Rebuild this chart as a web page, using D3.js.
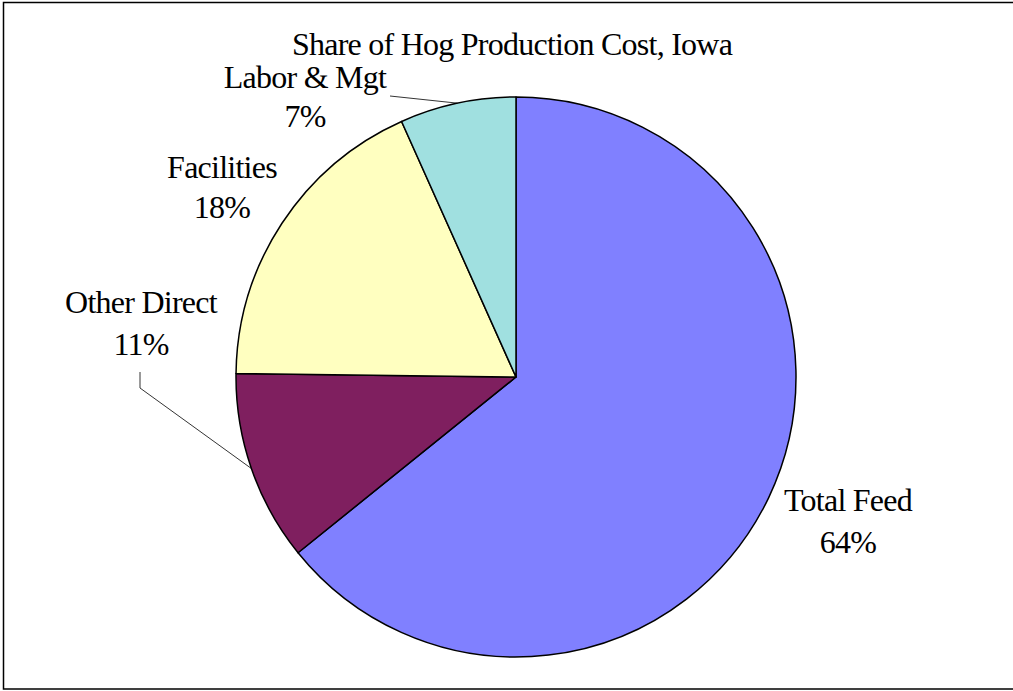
<!DOCTYPE html>
<html><head><meta charset="utf-8">
<script src="https://cdn.jsdelivr.net/npm/d3@7"></script>
<style>html,body{margin:0;padding:0;background:#fff;}svg{display:block;}</style>
</head><body>
<script>
const categories = ["Total Feed", "Other Direct", "Facilities", "Labor & Mgt"];
const shares = [64.2, 11.0, 18.1, 6.7];
const shareLabels = ["64%", "11%", "18%", "7%"];
const colors = ["#8080ff", "#7f1f5f", "#ffffc0", "#a0e0e0"];
const title = "Share of Hog Production Cost, Iowa";

const W = 1013, H = 691;
const cx = 516, cy = 377, R = 280;
// label layout (name baseline centre)
const labelPos = [
  {x: 848, y: 511, dy: 42},
  {x: 141, y: 313, dy: 42},
  {x: 222, y: 178, dy: 40},
  {x: 305, y: 88, dy: 39}
];

const svg = d3.select("body").append("svg").attr("width", W).attr("height", H);
svg.append("rect").attr("x", 3.5).attr("y", 2.5).attr("width", W + 10).attr("height", 686.5)
  .attr("fill", "#fff").attr("stroke", "#000").attr("stroke-width", 1.5);

const data = categories.map((c, i) => ({name: c, value: shares[i], label: shareLabels[i], color: colors[i]}));
const pie = d3.pie().value(d => d.value).sort(null);
const arcs = pie(data);
const arc = d3.arc().innerRadius(0).outerRadius(R);
const edgeArc = d3.arc().innerRadius(R).outerRadius(R);

const g = svg.append("g").attr("transform", `translate(${cx},${cy})`);
g.selectAll("path").data(arcs).join("path")
  .attr("d", arc).attr("fill", d => d.data.color)
  .attr("stroke", "#000").attr("stroke-width", 1.5).attr("stroke-linejoin", "round");

const font = "'Liberation Serif', 'Times New Roman', serif";
const fs = 32, ls = -0.75;
svg.append("text").attr("x", 512).attr("y", 55).attr("text-anchor", "middle")
  .attr("font-family", font).attr("font-size", fs).attr("letter-spacing", ls).text(title);

arcs.forEach((a, i) => {
  const p = labelPos[i];
  svg.append("text").attr("x", p.x).attr("y", p.y).attr("text-anchor", "middle")
    .attr("font-family", font).attr("font-size", fs).attr("letter-spacing", ls).text(a.data.name);
  svg.append("text").attr("x", p.x).attr("y", p.y + p.dy).attr("text-anchor", "middle")
    .attr("font-family", font).attr("font-size", fs).attr("letter-spacing", ls).text(a.data.label);
});

// leader lines
const mid = a => { const c = edgeArc.centroid(a); return [cx + c[0], cy + c[1]]; };
const lab = mid(arcs[3]);
svg.append("path").attr("d", d3.line()([[390, 96], lab]))
  .attr("fill", "none").attr("stroke", "#000").attr("stroke-width", 0.8);
const od = mid(arcs[1]);
svg.append("path").attr("d", d3.line()([[140, 372], [140, 388], od]))
  .attr("fill", "none").attr("stroke", "#000").attr("stroke-width", 0.8);
</script>
</body></html>
